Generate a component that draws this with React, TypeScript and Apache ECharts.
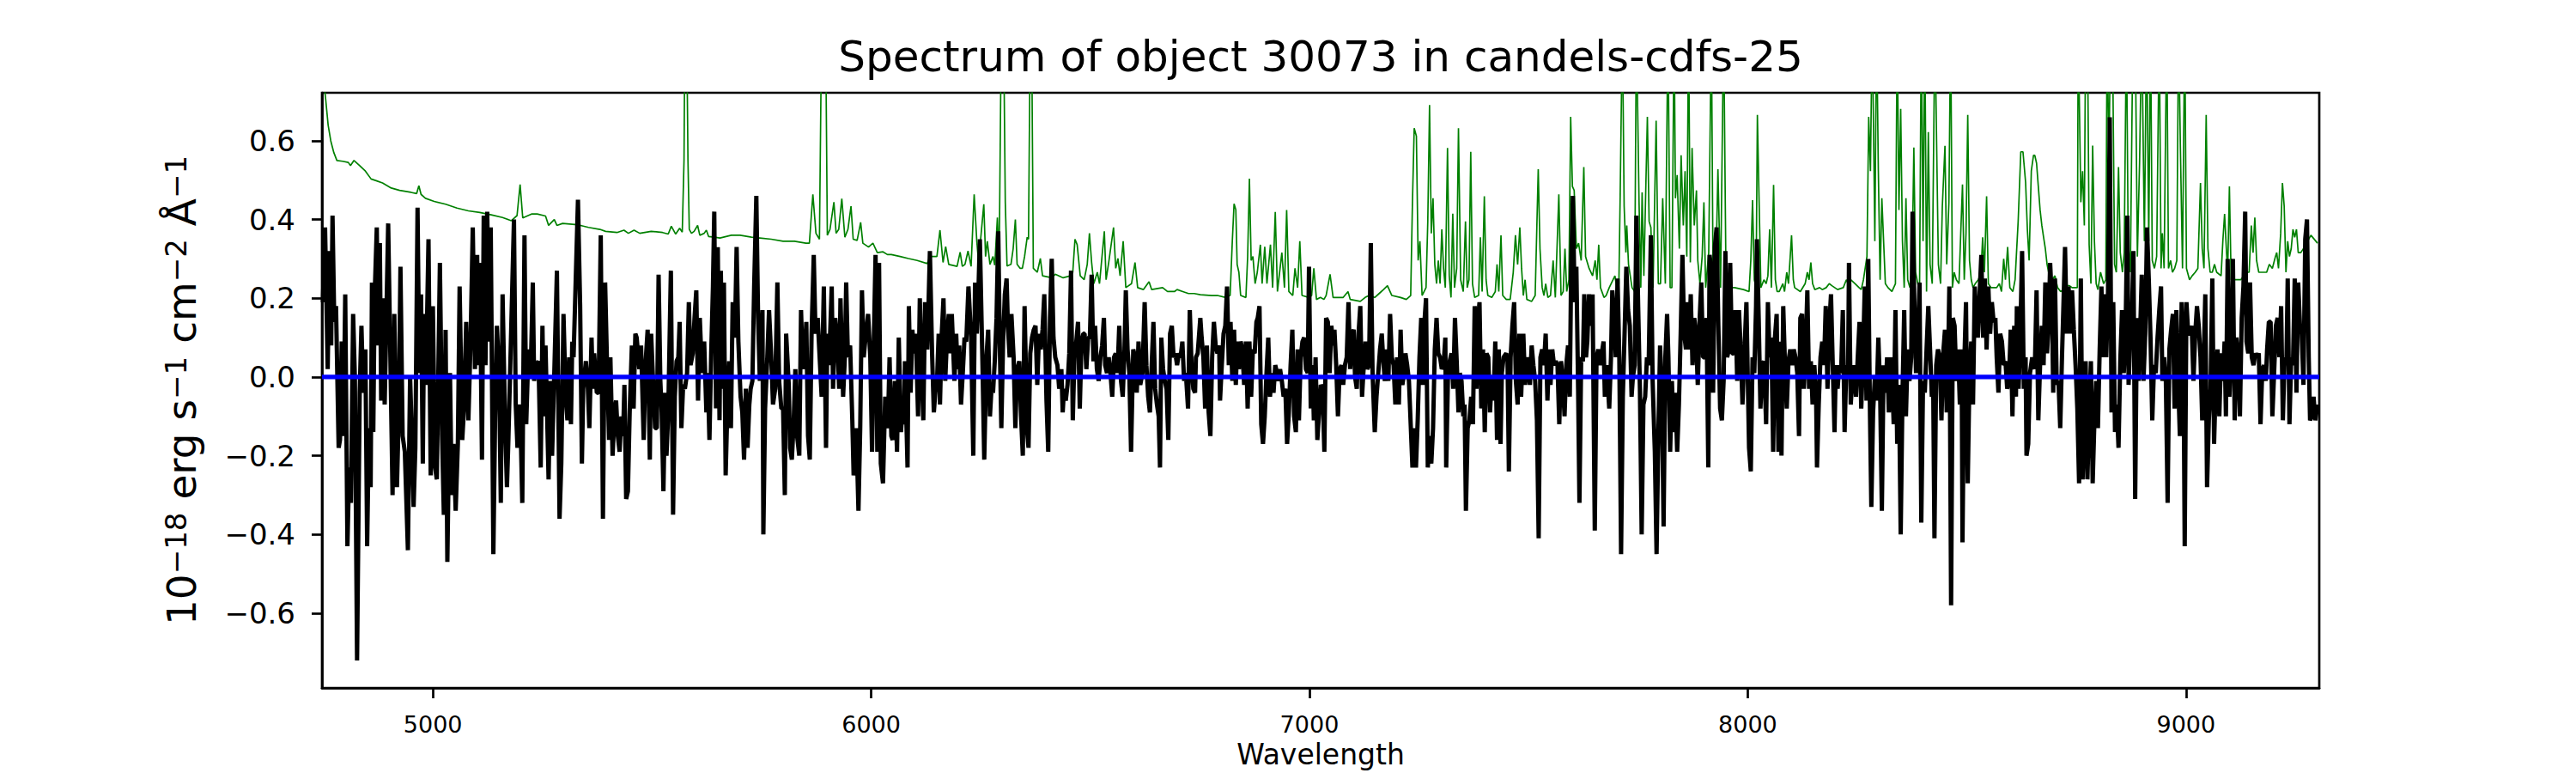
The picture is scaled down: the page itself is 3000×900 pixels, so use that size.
import React, { useEffect, useRef } from "react";
import * as echarts from "echarts";

const titleText = "Spectrum of object 30073 in candels-cdfs-25";
const xLabelText = "Wavelength";
const yLabelRich = "{b|10}{s|\u221218}{b| erg s}{s|\u22121}{b| cm}{s|\u22122}{b| \u00c5}{s|\u22121}";
const xTicks = [5000, 6000, 7000, 8000, 9000];
const yTicks = [-0.6, -0.4, -0.2, 0, 0.2, 0.4, 0.6];
const xRange = [4747, 9304];
const yRange = [-0.79, 0.722];
const zeroLevel = [[4747, 0], [9304, 0]];

const flux1 = [[4749,0.19],[4754,0.38],[4760,0.02],[4764,0.32],[4768,0.08],[4771,0.41],[4775,0.14],[4779,0.18],[4785,-0.18],[4788,-0.16],[4792,0.09],[4796,-0.15],[4800,0.21],[4805,-0.43],[4809,-0.23],[4813,-0.32],[4818,0.16],[4822,0],[4827,-0.72],[4833,-0.04],[4837,0.13],[4841,-0.04],[4846,0.07],[4850,-0.43],[4854,-0.13],[4858,-0.28],[4861,0.24],[4864,-0.14],[4867,0.2],[4872,0.38],[4875,0.08],[4879,0.34],[4882,-0.06],[4886,0.2],[4890,-0.07],[4894,0.16],[4898,0.39],[4903,0.05],[4908,-0.3],[4912,0.16],[4918,-0.28],[4922,-0.1],[4926,0.28],[4931,-0.15],[4936,-0.19],[4943,-0.44],[4948,0],[4952,-0.15],[4956,-0.33],[4960,-0.18],[4965,0.43],[4969,0.01],[4973,0.21],[4977,-0.22],[4980,0.16],[4984,-0.02],[4990,0.35],[4995,-0.25],[5000,0.18],[5005,-0.23],[5009,-0.26],[5016,0.29],[5021,-0.15],[5025,-0.35],[5029,0.12],[5033,-0.47],[5039,0.01],[5043,-0.3],[5047,-0.17],[5052,-0.34],[5057,-0.17],[5061,0.23],[5067,-0.16],[5071,-0.08],[5076,0.14],[5081,-0.11],[5086,0.09],[5091,0.38],[5096,0.02],[5101,0.31],[5104,0.03],[5107,0.29],[5112,-0.21],[5116,0.41],[5120,0.03],[5124,0.42],[5128,0.09],[5132,0.38],[5138,-0.45],[5142,-0.1],[5146,0.13],[5151,0.01],[5155,-0.32],[5159,0.21],[5165,-0.13],[5169,-0.28],[5172,-0.17],[5178,0.09],[5185,0.4],[5189,-0.07],[5193,-0.18],[5199,-0.07],[5204,-0.32],[5209,0.36],[5213,-0.12],[5218,0.07],[5223,0],[5228,0.24],[5231,-0.01],[5236,0.03],[5241,0.04],[5246,-0.23],[5250,0.13],[5253,-0.1],[5257,0.08],[5264,-0.26],[5268,-0.01],[5272,-0.2],[5277,0.01],[5283,0.27],[5289,-0.36],[5293,-0.22],[5298,0.16],[5303,-0.05],[5307,-0.11],[5311,0.05],[5315,-0.12],[5318,0.09],[5321,0.05],[5326,0.25],[5331,0.45],[5336,0.18],[5340,-0.22],[5343,-0.03],[5349,0.04],[5353,-0.01],[5357,-0.13],[5362,0.1],[5365,-0.03],[5368,0.06],[5374,-0.04],[5378,-0.04],[5383,0.36],[5388,-0.36],[5393,0.24]];

const flux2 = [[5397,0.05],[5402,-0.16],[5405,0.05],[5410,-0.2],[5415,-0.08],[5418,-0.06],[5422,-0.15],[5426,-0.19],[5430,-0.1],[5434,-0.15],[5437,-0.02],[5441,-0.31],[5445,-0.29],[5449,-0.09],[5454,0.08],[5458,-0.08],[5462,0.11],[5465,0.1],[5471,0.02],[5475,0.08],[5481,-0.16],[5485,0.03],[5490,0.12],[5495,-0.21],[5498,0.11],[5502,0],[5507,-0.13],[5511,-0.13],[5515,0.26],[5519,-0.01],[5522,-0.09],[5526,-0.29],[5530,-0.04],[5533,-0.2],[5537,-0.09],[5543,0.27],[5548,-0.35],[5552,-0.05],[5556,0.04],[5560,0.05],[5563,0.14],[5567,-0.13],[5571,-0.02],[5575,-0.03],[5580,0.01],[5584,0.19],[5588,0.03],[5593,0.06],[5597,0.15],[5601,0.22],[5605,-0.06],[5609,0.15],[5614,0.01],[5619,0.09],[5624,-0.09],[5627,0.01],[5631,-0.16],[5635,0.06],[5639,0.23],[5642,0.42],[5646,-0.08],[5650,0.33],[5654,-0.11],[5657,0.27],[5661,-0.03],[5664,0.24],[5668,-0.25],[5672,-0.07],[5676,0.04],[5680,-0.13],[5684,0.19],[5689,0.1],[5693,0.33],[5697,0.09],[5702,-0.05],[5706,-0.09],[5710,-0.21],[5714,-0.03],[5718,-0.18],[5722,-0.07],[5725,-0.03],[5729,-0.01],[5733,0.23],[5738,0.46],[5742,0.15],[5746,-0.01],[5752,0.17],[5754,-0.4],[5758,-0.08],[5763,0.05],[5767,0.17],[5772,0.05],[5776,-0.07],[5781,-0.03],[5786,0.24],[5790,-0.01],[5795,-0.08],[5799,-0.08],[5803,-0.3],[5806,0.11],[5812,-0.02],[5815,-0.18],[5819,-0.21],[5823,-0.12],[5827,0.02],[5831,-0.15],[5836,-0.2],[5840,0.17],[5844,0.02],[5848,0.05],[5852,0.14],[5856,-0.15],[5860,-0.21],[5864,0.11],[5869,0.31],[5873,0.11],[5878,0.15],[5882,0.06],[5887,-0.05],[5892,0.23],[5897,-0.18],[5900,0.11],[5904,0.03],[5910,0.23],[5913,-0.03],[5918,0.15],[5923,0.09],[5927,-0.03],[5930,0.2],[5936,-0.05],[5940,0.05],[5943,0.24],[5947,0.05],[5952,0.08],[5957,-0.11],[5960,-0.25],[5966,-0.13],[5971,-0.34],[5975,-0.13],[5979,0.22],[5983,0.05],[5988,0.11],[5993,0.16],[5998,0.05],[6002,-0.19],[6006,0.09],[6010,0.31],[6014,-0.19],[6018,0.29],[6022,-0.22],[6027,-0.27],[6032,-0.05],[6038,-0.13],[6042,0.05],[6046,-0.15]];

const flux3 = [[6049,-0.16],[6054,-0.01],[6059,-0.19],[6063,0.1],[6068,-0.14],[6071,-0.09],[6075,-0.12],[6077,0.04],[6083,-0.23],[6086,0.18],[6090,-0.04],[6094,0.12],[6098,0.06],[6102,0.11],[6107,-0.1],[6111,0.2],[6115,0.02],[6119,-0.11],[6123,0.19],[6128,0.07],[6131,0.19],[6134,0.32],[6139,0.06],[6143,-0.09],[6147,-0.03],[6150,-0.02],[6154,0.11],[6157,-0.07],[6161,0.11],[6165,0.2],[6169,-0.01],[6173,0.1],[6177,0.16],[6181,0.06],[6184,0.16],[6190,-0.01],[6194,0.11],[6197,0.02],[6201,0.08],[6205,-0.07],[6209,0.01],[6213,0.1],[6217,0.09],[6222,0.23],[6228,0.1],[6233,-0.2],[6237,0.24],[6241,0.11],[6245,0.23],[6248,0.35],[6254,0.03],[6258,-0.21],[6263,0.05],[6267,0.12],[6271,-0.1],[6275,-0.02],[6278,-0.04],[6282,0.04],[6286,0.15],[6290,0.37],[6294,0.05],[6297,-0.13],[6301,0.09],[6305,0.21],[6309,0.25],[6312,0.13],[6316,0.05],[6320,0.16],[6325,0.05],[6329,-0.13],[6333,0.02],[6338,0.04],[6342,-0.1],[6346,-0.2],[6350,0.18],[6356,-0.14],[6359,-0.18],[6363,0.06],[6367,0.1],[6371,0.12],[6375,0.13],[6379,-0.02],[6383,0.11],[6387,0.07],[6391,0.12],[6395,0.21],[6400,-0.06],[6404,-0.19],[6408,0.15],[6412,0.3],[6416,0.1],[6420,0.05],[6425,0.03],[6429,-0.03],[6434,0.02],[6437,-0.09],[6440,-0.03],[6444,-0.06],[6448,-0.02],[6452,0.06],[6456,0.27],[6460,-0.11],[6464,0.06],[6468,0.09],[6472,0.14],[6476,-0.08],[6480,0.09],[6484,0.11],[6487,0.11],[6491,0.02],[6495,0.1],[6499,0.1],[6503,0.26],[6507,0.04],[6511,0.13],[6515,0.02],[6519,-0.01],[6523,0.05],[6527,0.08],[6531,0.15],[6534,0.03],[6538,0.01],[6542,0.05],[6546,0.01],[6550,-0.05],[6554,0.05],[6558,0.06],[6562,0.01],[6566,0.13],[6570,-0.01],[6574,-0.05],[6578,0.07],[6581,0.22],[6585,0.07],[6589,0.01],[6593,-0.19],[6598,0.07],[6602,0.05],[6606,-0.04],[6610,0.09],[6614,-0.02],[6619,0.01],[6624,0.19],[6628,0.03],[6632,-0.05],[6636,-0.09],[6640,0.03],[6644,0.14],[6648,-0.03],[6652,-0.07],[6656,-0.1],[6659,-0.23],[6662,0.1],[6666,0.02],[6670,-0.01],[6674,-0.03],[6678,-0.16],[6682,0.11],[6686,0.13],[6690,0.05],[6694,0.06],[6698,0.03]];

const flux4 = [[6702,0.06],[6706,0.05],[6710,0.09],[6714,-0.01],[6718,0.01],[6723,-0.08],[6727,0.17],[6731,0.03],[6735,-0.03],[6739,-0.04],[6741,0.05],[6745,0.06],[6751,0.15],[6754,0.1],[6758,0.05],[6762,-0.08],[6766,0.08],[6770,-0.09],[6774,-0.15],[6778,0.05],[6782,0.14],[6786,0.08],[6790,0.06],[6794,0.08],[6796,-0.06],[6800,0.03],[6804,0.11],[6808,0.13],[6812,0.23],[6816,0.03],[6820,0.14],[6824,-0.01],[6828,0.12],[6832,-0.02],[6835,0.09],[6839,0.02],[6843,0.09],[6847,0.07],[6851,-0.02],[6855,0.09],[6859,-0.08],[6863,0.09],[6867,-0.05],[6871,0.07],[6875,0.06],[6879,0.14],[6882,0.15],[6886,0.18],[6890,-0.12],[6894,-0.17],[6898,-0.1],[6902,0.01],[6906,0.1],[6910,-0.05],[6914,0.01],[6918,-0.04],[6922,0.03],[6926,0.01],[6929,-0.01],[6933,0.02],[6937,-0.01],[6941,-0.05],[6945,-0.03],[6949,-0.17],[6953,-0.09],[6957,0.03],[6961,0.12],[6965,-0.1],[6969,-0.14],[6973,0.07],[6976,-0.11],[6980,0.05],[6984,0.09],[6988,0.1],[6992,0.02],[6996,0.01],[6999,0.28],[7003,-0.08],[7007,0.03],[7010,-0.11],[7014,0.05],[7018,-0.16],[7022,-0.09],[7026,-0.02],[7030,-0.03],[7034,-0.19],[7038,0.15],[7042,0.14],[7046,0.01],[7050,0.13],[7054,0.08],[7057,0.12],[7061,0.03],[7065,-0.1],[7069,0.02],[7073,0.03],[7077,-0.02],[7081,0.03],[7085,0.05],[7089,0.19],[7093,0.02],[7097,0.11],[7101,0.12],[7104,0],[7108,-0.03],[7112,0.11],[7116,0.18],[7120,-0.05],[7124,0.03],[7128,0.09],[7132,0.02],[7136,0.03],[7140,0.34],[7144,0.01],[7149,-0.14],[7153,-0.05],[7157,0.01],[7161,0.07],[7165,0.11],[7168,0.05],[7172,-0.01],[7176,0.07],[7180,-0.01],[7184,0.16],[7188,0.05],[7192,0.03],[7196,-0.07],[7200,0.05],[7204,-0.07],[7208,0.12],[7212,-0.02],[7216,0.01],[7219,0.06],[7223,0.03],[7227,-0.01],[7231,-0.12],[7235,-0.23],[7239,-0.13],[7243,-0.23],[7247,-0.11],[7251,0.05],[7255,0.15],[7259,-0.02],[7263,0.15],[7266,0.2],[7270,-0.23],[7274,-0.15],[7278,-0.22],[7282,-0.13],[7286,0.07],[7290,0.15],[7294,0.06],[7298,0.05],[7302,0.02],[7306,0.03],[7310,0.1],[7312,-0.23],[7316,0],[7320,0.04],[7324,0.06],[7328,-0.03],[7332,0.15],[7336,0.04],[7340,-0.09],[7343,0.01],[7347,-0.01],[7351,-0.1]];

const flux5 = [[7354,-0.07],[7357,-0.34],[7361,-0.13],[7365,-0.11],[7369,-0.05],[7373,-0.12],[7377,0.18],[7381,-0.03],[7385,0.15],[7388,0.19],[7392,-0.08],[7396,0.07],[7400,-0.14],[7404,0.06],[7408,0.05],[7412,-0.09],[7416,0],[7420,-0.06],[7424,0.09],[7428,-0.16],[7432,0.07],[7436,-0.17],[7439,0.01],[7443,0.05],[7449,0.06],[7452,0.04],[7455,-0.24],[7459,0.05],[7463,0.13],[7467,0.19],[7471,-0.01],[7475,-0.07],[7479,0.11],[7483,-0.05],[7488,0.11],[7492,-0.02],[7496,0.05],[7499,0.02],[7503,-0.02],[7507,0.08],[7511,0.03],[7515,-0.01],[7519,-0.11],[7523,-0.41],[7527,0.05],[7531,0.07],[7535,0.03],[7539,0.11],[7543,-0.06],[7547,0.07],[7550,-0.02],[7554,0.07],[7558,0.03],[7562,0.04],[7566,0.03],[7570,-0.12],[7574,0.04],[7578,-0.01],[7582,-0.1],[7586,0.03],[7590,0.08],[7594,-0.05],[7597,0.27],[7601,0.46],[7605,0.19],[7609,0.28],[7613,-0.03],[7616,-0.32],[7620,0.05],[7624,0.04],[7627,0.21],[7631,0.05],[7634,0.09],[7638,0.21],[7642,0.13],[7646,0.21],[7651,-0.39],[7655,0.05],[7659,0.07],[7663,0.03],[7667,0.06],[7671,0.09],[7674,-0.05],[7678,0.03],[7684,-0.08],[7688,0.05],[7691,0.22],[7695,0.15],[7699,0.05],[7703,0.25],[7707,0.05],[7711,-0.45],[7715,-0.05],[7719,0.11],[7723,0.28],[7727,0.17],[7731,0.13],[7735,-0.05],[7738,0],[7742,0.03],[7746,0.41],[7750,0.18],[7754,-0.03],[7758,-0.4],[7762,-0.07],[7766,-0.05],[7770,0.05],[7774,0.03],[7779,0.36],[7783,-0.01],[7788,-0.19],[7792,-0.45],[7796,-0.15],[7800,0.08],[7804,-0.03],[7808,-0.38],[7812,0.05],[7816,0.16],[7819,0.05],[7823,-0.19],[7827,-0.01],[7831,-0.14],[7835,-0.04],[7839,-0.19],[7843,-0.07],[7847,0.11],[7851,0.31],[7855,0.11],[7859,0.07],[7863,0.19],[7866,0.07],[7870,0.21],[7874,0.03],[7878,0.15],[7882,0.11],[7886,-0.02],[7890,0.14],[7894,0.24],[7898,0.05],[7902,0.05],[7906,0.15],[7910,-0.23],[7913,0.31],[7917,0.27],[7921,-0.04],[7925,0.33],[7929,0.38],[7933,0.13],[7937,-0.08],[7941,-0.11],[7945,-0.01],[7949,0.32],[7953,0.05],[7957,0.07],[7960,0.29],[7964,0.06],[7968,0.06],[7972,0.17],[7976,-0.01],[7980,0.17],[7984,0.07],[7988,-0.07],[7992,0.05],[7997,0.19],[8003,-0.18]];

const flux6 = [[8007,-0.24],[8011,0.05],[8015,0.01],[8019,0.18],[8021,0.35],[8025,0.15],[8029,-0.08],[8033,0.03],[8037,0.04],[8042,-0.12],[8046,0.19],[8050,0.05],[8054,0.1],[8058,-0.19],[8062,0.1],[8066,0.16],[8070,-0.19],[8073,0.09],[8077,-0.2],[8081,0.18],[8085,0.03],[8089,-0.08],[8093,0.04],[8097,0.07],[8101,0.03],[8105,0.07],[8109,0.05],[8113,0.01],[8117,-0.15],[8120,0.15],[8124,0.16],[8128,-0.03],[8132,0.06],[8136,0.22],[8140,-0.03],[8144,0.04],[8148,-0.07],[8152,0.03],[8156,-0.05],[8158,-0.23],[8162,-0.07],[8166,0.05],[8170,0.09],[8174,0.03],[8178,0.18],[8182,-0.03],[8186,0.13],[8190,0.21],[8194,0.03],[8198,-0.14],[8201,0.03],[8205,-0.03],[8209,0.03],[8213,0.01],[8217,0.17],[8221,-0.14],[8225,0.03],[8229,0.01],[8231,0.29],[8235,-0.07],[8239,0],[8243,0.03],[8247,-0.05],[8251,0.05],[8255,0.14],[8259,-0.08],[8263,0.05],[8267,0.23],[8271,-0.06],[8275,0.3],[8279,-0.1],[8282,-0.33],[8286,-0.09],[8290,0],[8294,-0.06],[8298,0.1],[8302,-0.03],[8306,-0.34],[8310,0.03],[8314,-0.04],[8318,0.05],[8322,-0.09],[8326,0.05],[8329,0.02],[8333,-0.12],[8337,0.17],[8341,-0.17],[8345,-0.02],[8349,-0.4],[8353,-0.05],[8357,0.17],[8361,-0.1],[8365,0.07],[8369,-0.01],[8373,0.05],[8376,0.42],[8380,0.2],[8384,0.01],[8388,0.08],[8392,0.24],[8396,-0.37],[8400,-0.01],[8404,-0.04],[8408,0.07],[8412,0.18],[8416,0.07],[8420,-0.05],[8423,0],[8426,-0.41],[8430,0.03],[8434,0.07],[8438,0.05],[8442,-0.11],[8446,0.06],[8450,0.12],[8454,-0.09],[8457,0.03],[8460,0.23],[8464,-0.58],[8468,0.15],[8472,0.13],[8476,-0.01],[8480,0.07],[8484,-0.07],[8488,0.07],[8490,-0.42],[8494,0.03],[8498,0.19],[8502,-0.27],[8506,0.01],[8510,0.09],[8514,-0.07],[8518,0.23],[8521,0.15],[8525,0.1],[8529,0.21],[8533,0.31],[8537,0.1],[8541,0.25],[8545,0.07],[8549,0.23],[8553,0.11],[8557,0.19],[8561,0.14],[8565,0.15],[8568,0.05],[8572,-0.04],[8576,0.11],[8580,0.09],[8584,0.03],[8588,0.04],[8592,-0.03],[8596,-0.01],[8600,0.12],[8604,-0.1],[8608,0.13],[8612,-0.05],[8614,0.18],[8618,-0.03],[8622,0.11],[8626,0.32],[8630,-0.03],[8634,0.05],[8636,-0.2],[8640,-0.17],[8644,0.01],[8649,0.05],[8655,0.02]];

const flux7 = [[8659,0.22],[8663,-0.11],[8667,0.03],[8671,0.13],[8675,0.03],[8679,0.24],[8683,0.06],[8687,0.15],[8690,0.29],[8694,0.19],[8697,-0.04],[8701,0.25],[8705,-0.02],[8709,-0.01],[8713,-0.13],[8717,0.05],[8721,0.21],[8724,0.33],[8728,0.11],[8732,0.23],[8736,0.11],[8740,0.22],[8744,0.12],[8748,0.03],[8752,-0.08],[8756,-0.27],[8760,0.25],[8764,-0.26],[8768,-0.12],[8771,0.04],[8775,-0.26],[8779,-0.09],[8783,0.04],[8787,-0.27],[8791,-0.11],[8795,-0.01],[8799,-0.13],[8803,0.07],[8807,0.23],[8811,0.05],[8815,0.21],[8818,0.05],[8822,0.21],[8826,0.66],[8830,-0.09],[8834,0.19],[8838,-0.14],[8842,-0.07],[8846,-0.18],[8850,0.04],[8854,0.17],[8858,0.01],[8862,0.11],[8866,0.41],[8869,-0.02],[8873,0.11],[8877,0.17],[8880,0.32],[8884,-0.31],[8888,0.15],[8892,-0.01],[8896,0.14],[8899,0.26],[8903,-0.01],[8907,0.11],[8911,0.38],[8915,0.25],[8919,0.1],[8923,-0.11],[8927,0.03],[8931,0.01],[8935,0.1],[8939,0.17],[8943,0.23],[8946,-0.01],[8950,0.05],[8954,-0.01],[8958,-0.32],[8962,0.07],[8966,0.12],[8970,0.16],[8974,-0.08],[8978,0.17],[8982,-0.01],[8986,-0.15],[8990,0.19],[8994,0.09],[8997,-0.43],[9001,0.19],[9005,0.11],[9009,0.11],[9013,0.13],[9017,-0.01],[9021,0.11],[9025,0.18],[9029,0.13],[9033,0.05],[9037,-0.11],[9040,0.03],[9044,0.21],[9048,-0.28],[9052,-0.11],[9056,-0.03],[9060,0.25],[9064,-0.17],[9068,-0.01],[9072,0.07],[9076,-0.1],[9080,0.06],[9084,-0.01],[9088,0.09],[9091,-0.1],[9095,0.3],[9099,-0.05],[9103,0.07],[9107,0.3],[9111,-0.11],[9115,0.1],[9119,0.05],[9123,-0.1],[9127,0.15],[9131,0.23],[9135,0.42],[9138,0.09],[9142,0.06],[9146,0.24],[9150,0.05],[9154,0.03],[9158,0.06],[9162,0.05],[9166,0.06],[9170,-0.12],[9174,0.02],[9178,0.03],[9182,-0.01],[9185,0.07],[9189,0.14],[9193,0.14],[9197,-0.1],[9201,0.01],[9205,0.13],[9209,0.15],[9213,0.05],[9217,0.18],[9221,-0.11],[9225,0.05],[9229,0.03],[9232,0.25],[9236,-0.12],[9240,0.05],[9244,0.03],[9248,0.25],[9252,-0.04],[9256,0.24],[9260,0.13],[9264,0.11],[9268,-0.02],[9272,0.35],[9276,0.4],[9280,0.05],[9283,-0.11],[9287,-0.1],[9291,-0.05],[9295,-0.11],[9300,-0.07]];

const noise1 = [[4748,0.9],[4752,0.74],[4755,0.71],[4761,0.64],[4767,0.6],[4774,0.57],[4781,0.55],[4794,0.548],[4807,0.545],[4812,0.537],[4820,0.55],[4833,0.537],[4846,0.523],[4859,0.503],[4872,0.498],[4885,0.493],[4905,0.48],[4924,0.474],[4950,0.469],[4963,0.466],[4968,0.486],[4973,0.464],[4983,0.454],[5003,0.446],[5029,0.439],[5055,0.429],[5081,0.422],[5107,0.418],[5133,0.412],[5159,0.405],[5179,0.397],[5192,0.41],[5199,0.489],[5205,0.404],[5225,0.414],[5238,0.414],[5257,0.409],[5264,0.385],[5277,0.4],[5283,0.385],[5296,0.39],[5329,0.387],[5355,0.38],[5381,0.375]];

const noise2 = [[5394,0.37],[5420,0.367],[5436,0.373],[5446,0.365],[5459,0.373],[5472,0.365],[5498,0.37],[5524,0.367],[5537,0.363],[5544,0.383],[5554,0.363],[5563,0.378],[5569,0.368],[5573,0.55],[5575,0.9],[5579,0.9],[5582,0.55],[5585,0.375],[5590,0.365],[5596,0.37],[5604,0.385],[5609,0.36],[5619,0.365],[5624,0.373],[5629,0.357],[5642,0.355],[5655,0.353],[5681,0.36],[5701,0.36],[5727,0.355],[5746,0.353],[5772,0.35],[5799,0.345],[5825,0.345],[5851,0.34],[5859,0.34],[5867,0.464],[5874,0.365],[5882,0.35],[5887,0.9],[5896,0.9],[5900,0.36],[5906,0.375],[5915,0.444],[5920,0.365],[5926,0.375],[5933,0.453],[5940,0.355],[5947,0.375],[5954,0.434],[5959,0.35],[5968,0.347],[5976,0.393],[5981,0.34],[5994,0.33],[6004,0.34],[6014,0.316],[6027,0.318],[6037,0.311]];

const noise3 = [[6046,0.311],[6066,0.306],[6085,0.301],[6105,0.296],[6128,0.288],[6134,0.306],[6144,0.306],[6150,0.306],[6157,0.373],[6164,0.291],[6170,0.331],[6177,0.286],[6196,0.281],[6203,0.317],[6208,0.281],[6214,0.286],[6221,0.32],[6228,0.281],[6235,0.464],[6241,0.345],[6245,0.291],[6257,0.439],[6261,0.306],[6265,0.345],[6271,0.286],[6278,0.306],[6282,0.284],[6288,0.405],[6292,0.286],[6297,0.9],[6302,0.9],[6306,0.444],[6310,0.282],[6319,0.286],[6324,0.326],[6329,0.4],[6333,0.286],[6340,0.276],[6345,0.276],[6350,0.306],[6356,0.355],[6359,0.35],[6363,0.9],[6366,0.9],[6370,0.276],[6379,0.266],[6386,0.301],[6391,0.257],[6412,0.252],[6420,0.261],[6438,0.252],[6455,0.257],[6460,0.266],[6465,0.35],[6470,0.336],[6477,0.257],[6486,0.247],[6493,0.286],[6498,0.365],[6503,0.291],[6508,0.237],[6516,0.266],[6521,0.237],[6532,0.37],[6536,0.247],[6542,0.291],[6553,0.38],[6558,0.276],[6563,0.301],[6568,0.257],[6575,0.345],[6581,0.227],[6594,0.237],[6602,0.291],[6608,0.227],[6621,0.222],[6634,0.242],[6640,0.222],[6665,0.227],[6676,0.217],[6692,0.217]];

const noise4 = [[6698,0.222],[6711,0.217],[6724,0.212],[6737,0.212],[6751,0.209],[6777,0.207],[6790,0.207],[6809,0.202],[6819,0.207],[6824,0.345],[6828,0.44],[6832,0.425],[6835,0.286],[6839,0.266],[6843,0.207],[6855,0.202],[6859,0.306],[6863,0.504],[6867,0.296],[6871,0.306],[6876,0.237],[6881,0.266],[6888,0.336],[6892,0.237],[6898,0.331],[6903,0.237],[6911,0.336],[6916,0.227],[6922,0.419],[6927,0.217],[6937,0.316],[6943,0.227],[6948,0.424],[6953,0.217],[6962,0.207],[6967,0.276],[6973,0.227],[6978,0.345],[6983,0.207],[6999,0.202],[7005,0.207],[7010,0.276],[7016,0.197],[7025,0.202],[7033,0.197],[7038,0.207],[7047,0.261],[7054,0.202],[7077,0.202],[7088,0.217],[7093,0.197],[7116,0.192],[7127,0.202],[7136,0.207],[7149,0.202],[7159,0.212],[7169,0.222],[7178,0.232],[7188,0.207],[7208,0.202],[7221,0.197],[7231,0.207],[7235,0.444],[7239,0.632],[7244,0.612],[7248,0.296],[7252,0.345],[7257,0.207],[7266,0.227],[7270,0.395],[7274,0.691],[7278,0.365],[7282,0.454],[7286,0.286],[7290,0.237],[7294,0.296],[7298,0.237],[7302,0.375],[7306,0.276],[7310,0.227],[7315,0.582],[7319,0.257],[7323,0.202],[7327,0.415],[7331,0.227],[7336,0.276],[7340,0.632],[7345,0.247]];

const noise5 = [[7351,0.217],[7356,0.395],[7360,0.227],[7364,0.247],[7368,0.572],[7372,0.237],[7377,0.202],[7386,0.207],[7390,0.355],[7394,0.217],[7399,0.459],[7403,0.247],[7407,0.207],[7416,0.202],[7424,0.217],[7428,0.286],[7432,0.217],[7437,0.36],[7441,0.207],[7449,0.197],[7458,0.197],[7465,0.266],[7470,0.36],[7475,0.286],[7480,0.38],[7484,0.276],[7488,0.207],[7492,0.247],[7496,0.197],[7507,0.192],[7515,0.207],[7522,0.528],[7526,0.326],[7531,0.227],[7535,0.207],[7539,0.237],[7544,0.202],[7550,0.207],[7556,0.296],[7561,0.202],[7569,0.464],[7574,0.207],[7579,0.217],[7583,0.326],[7587,0.217],[7592,0.247],[7596,0.661],[7600,0.484],[7604,0.474],[7609,0.326],[7614,0.34],[7620,0.296],[7626,0.533],[7630,0.306],[7638,0.276],[7646,0.257],[7652,0.296],[7656,0.247],[7660,0.336],[7664,0.227],[7672,0.202],[7677,0.207],[7684,0.227],[7697,0.257],[7701,0.227],[7706,0.237],[7709,0.464],[7714,0.9],[7718,0.434],[7722,0.316],[7724,0.385],[7728,0.286],[7736,0.227],[7742,0.217],[7746,0.9],[7752,0.444],[7756,0.227],[7759,0.469],[7763,0.257],[7771,0.661],[7775,0.395],[7779,0.38],[7784,0.227],[7791,0.651],[7796,0.237],[7801,0.237],[7806,0.454],[7812,0.237],[7818,0.9],[7823,0.227],[7827,0.227],[7832,0.9],[7835,0.454],[7839,0.513],[7844,0.326],[7848,0.563],[7853,0.385],[7857,0.523],[7861,0.306],[7865,0.9],[7869,0.291],[7873,0.582],[7878,0.385],[7883,0.474],[7886,0.296],[7891,0.237],[7896,0.306],[7900,0.444],[7904,0.227],[7911,0.316],[7917,0.9],[7921,0.227],[7928,0.306],[7932,0.528],[7938,0.227],[7945,0.9],[7950,0.296],[7955,0.227],[7970,0.227],[7990,0.222]];

const noise6 = [[8003,0.217],[8007,0.296],[8011,0.449],[8015,0.247],[8019,0.227],[8022,0.666],[8026,0.444],[8030,0.227],[8037,0.247],[8042,0.237],[8046,0.257],[8050,0.375],[8054,0.227],[8059,0.488],[8063,0.247],[8067,0.217],[8072,0.217],[8076,0.227],[8080,0.237],[8084,0.217],[8089,0.266],[8093,0.237],[8100,0.36],[8104,0.247],[8107,0.227],[8120,0.217],[8131,0.237],[8136,0.266],[8140,0.247],[8144,0.291],[8148,0.237],[8153,0.222],[8164,0.227],[8170,0.222],[8179,0.227],[8186,0.237],[8192,0.232],[8205,0.222],[8218,0.227],[8225,0.247],[8229,0.237],[8235,0.247],[8245,0.237],[8254,0.227],[8259,0.222],[8264,0.247],[8272,0.306],[8276,0.661],[8280,0.523],[8284,0.9],[8288,0.543],[8290,0.345],[8294,0.9],[8298,0.523],[8302,0.247],[8306,0.454],[8310,0.345],[8314,0.237],[8320,0.227],[8329,0.217],[8337,0.237],[8341,0.9],[8345,0.424],[8349,0.681],[8353,0.345],[8357,0.227],[8361,0.454],[8365,0.247],[8370,0.227],[8375,0.277],[8379,0.583],[8383,0.266],[8388,0.237],[8392,0.217],[8396,0.9],[8400,0.345],[8404,0.9],[8408,0.217],[8412,0.622],[8416,0.286],[8421,0.237],[8427,0.9],[8431,0.592],[8435,0.286],[8440,0.237],[8444,0.434],[8450,0.587],[8454,0.286],[8459,0.444],[8463,0.9],[8467,0.227],[8471,0.266],[8476,0.247],[8482,0.237],[8486,0.365],[8490,0.489],[8494,0.247],[8498,0.365],[8502,0.666],[8506,0.296],[8510,0.247],[8514,0.227],[8519,0.237],[8526,0.247],[8532,0.262],[8536,0.355],[8540,0.266],[8545,0.459],[8549,0.237],[8555,0.227],[8562,0.227],[8568,0.227],[8574,0.237],[8579,0.217],[8584,0.3],[8588,0.247],[8593,0.33],[8598,0.227],[8605,0.217],[8610,0.247],[8617,0.395],[8623,0.572],[8628,0.572],[8634,0.494],[8638,0.375],[8642,0.296],[8647,0.523],[8652,0.563]];

const noise7 = [[8655,0.563],[8659,0.543],[8663,0.484],[8667,0.425],[8671,0.385],[8675,0.355],[8679,0.326],[8683,0.286],[8688,0.257],[8694,0.247],[8701,0.257],[8707,0.227],[8714,0.217],[8720,0.222],[8727,0.232],[8734,0.232],[8740,0.227],[8747,0.227],[8752,0.227],[8754,0.9],[8760,0.444],[8764,0.523],[8768,0.385],[8771,0.9],[8775,0.9],[8779,0.336],[8783,0.237],[8787,0.588],[8791,0.345],[8795,0.237],[8799,0.222],[8805,0.266],[8812,0.237],[8817,0.247],[8820,0.9],[8824,0.543],[8828,0.9],[8832,0.9],[8837,0.286],[8841,0.266],[8846,0.533],[8850,0.316],[8855,0.266],[8859,0.316],[8864,0.9],[8868,0.345],[8873,0.266],[8879,0.9],[8884,0.9],[8889,0.306],[8894,0.543],[8899,0.9],[8905,0.345],[8910,0.9],[8915,0.345],[8919,0.9],[8923,0.296],[8928,0.276],[8933,0.306],[8939,0.9],[8943,0.276],[8946,0.365],[8950,0.276],[8956,0.9],[8960,0.276],[8965,0.296],[8969,0.266],[8974,0.276],[8979,0.296],[8983,0.9],[8987,0.592],[8992,0.276],[8997,0.9],[9001,0.276],[9008,0.247],[9014,0.257],[9021,0.266],[9027,0.276],[9033,0.493],[9037,0.326],[9041,0.276],[9046,0.666],[9050,0.326],[9055,0.266],[9060,0.266],[9065,0.286],[9070,0.266],[9080,0.257],[9084,0.345],[9088,0.414],[9092,0.326],[9095,0.266],[9099,0.484],[9103,0.247],[9112,0.247],[9119,0.247],[9125,0.247],[9132,0.257],[9139,0.266],[9144,0.266],[9149,0.385],[9153,0.316],[9157,0.405],[9161,0.296],[9166,0.266],[9178,0.266],[9184,0.266],[9190,0.286],[9197,0.276],[9204,0.306],[9207,0.316],[9211,0.276],[9216,0.365],[9220,0.493],[9224,0.434],[9228,0.266],[9232,0.345],[9236,0.306],[9240,0.326],[9244,0.375],[9248,0.355],[9252,0.375],[9256,0.316],[9262,0.316],[9270,0.33],[9285,0.36],[9300,0.34]];

const fluxData = [...flux1, ...flux2, ...flux3, ...flux4, ...flux5, ...flux6, ...flux7];
const noiseData = [...noise1, ...noise2, ...noise3, ...noise4, ...noise5, ...noise6, ...noise7];

const FONT = "DejaVu Sans";

export default function App() {
  const ref = useRef<HTMLDivElement>(null);
  useEffect(() => {
    document.body.style.margin = "0";
    const chart = echarts.init(ref.current as HTMLDivElement, null, { renderer: "svg" });
    chart.setOption({
      animation: false,
      backgroundColor: "#ffffff",
      graphic: [
        {
          type: "text",
          x: 1538,
          y: 66,
          style: {
            text: titleText,
            fontSize: 50,
            fontFamily: FONT,
            fill: "#000000",
            align: "center",
            verticalAlign: "middle",
          },
        },
      ],
      grid: {
        left: 375,
        top: 108,
        width: 2326,
        height: 693,
        show: true,
        borderColor: "#000000",
        borderWidth: 2.7,
        backgroundColor: "transparent",
      },
      xAxis: {
        type: "value",
        min: xRange[0],
        max: xRange[1],
        name: xLabelText,
        nameLocation: "middle",
        nameGap: 57,
        nameTextStyle: { fontSize: 33, fontFamily: FONT, color: "#000000" },
        axisLine: { show: true, onZero: false, lineStyle: { color: "#000000", width: 2.7 } },
        splitLine: { show: false },
        axisTick: { show: true, length: 12, lineStyle: { color: "#000000", width: 2.7 }, customValues: xTicks },
        axisLabel: {
          customValues: xTicks,
          margin: 29,
          fontSize: 27,
          fontFamily: FONT,
          color: "#000000",
          formatter: (v: number) => String(v),
        },
      },
      yAxis: {
        type: "value",
        min: yRange[0],
        max: yRange[1],
        name: yLabelRich,
        nameLocation: "middle",
        nameRotate: 90,
        nameGap: 140,
        nameTextStyle: {
          fontSize: 47,
          fontFamily: FONT,
          color: "#000000",
          rich: {
            b: { fontSize: 47, lineHeight: 47, verticalAlign: "middle", fontFamily: FONT, color: "#000000" },
            s: { fontSize: 34, lineHeight: 16, verticalAlign: "top", fontFamily: FONT, color: "#000000" },
          },
        },
        axisLine: { show: true, onZero: false, lineStyle: { color: "#000000", width: 2.7 } },
        splitLine: { show: false },
        axisTick: { show: true, length: 12, lineStyle: { color: "#000000", width: 2.7 }, customValues: yTicks },
        axisLabel: {
          customValues: yTicks,
          margin: 31,
          fontSize: 34,
          fontFamily: FONT,
          color: "#000000",
          formatter: (v: number) => (v < -1e-9 ? "\u2212" : "") + Math.abs(v).toFixed(1),
        },
      },
      series: [
        {
          name: "noise",
          type: "line",
          data: noiseData,
          showSymbol: false,
          symbol: "none",
          silent: true,
          z: 2,
          lineStyle: { color: "#008000", width: 1.7 },
        },
        {
          name: "flux",
          type: "line",
          data: fluxData,
          showSymbol: false,
          symbol: "none",
          silent: true,
          z: 3,
          lineStyle: { color: "#000000", width: 5 },
        },
        {
          name: "zero",
          type: "line",
          data: zeroLevel,
          showSymbol: false,
          symbol: "none",
          silent: true,
          z: 4,
          lineStyle: { color: "#0000ff", width: 5.4 },
        },
      ],
    });
    return () => chart.dispose();
  }, []);
  return <div ref={ref} style={{ width: 3000, height: 900 }} />;
}
